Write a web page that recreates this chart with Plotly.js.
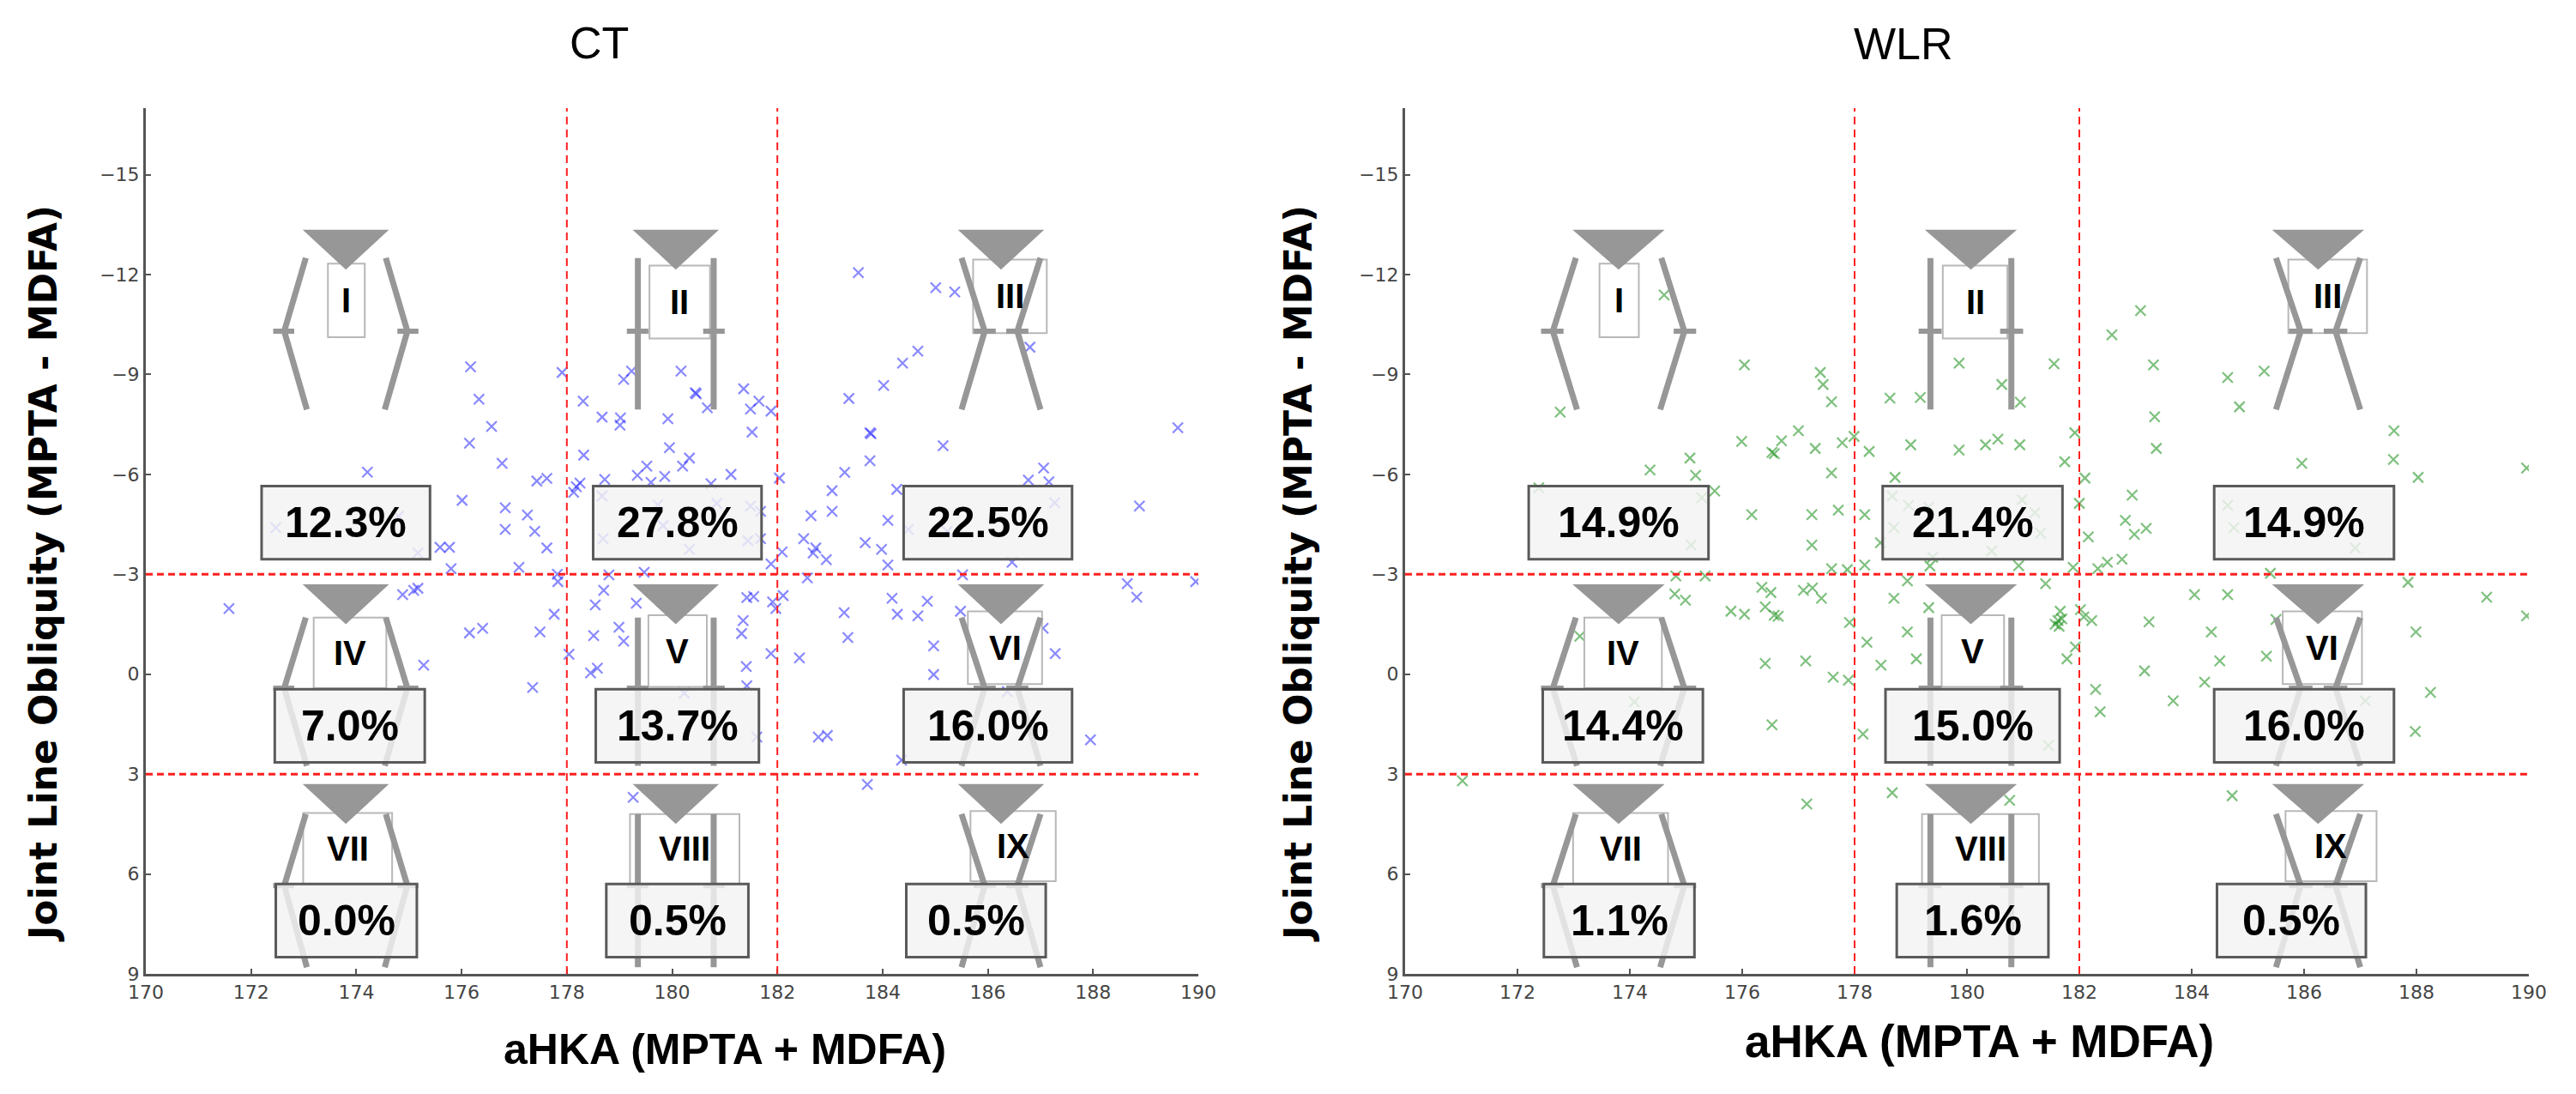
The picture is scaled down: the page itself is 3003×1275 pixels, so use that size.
<!DOCTYPE html>
<html><head><meta charset="utf-8">
<script src="https://cdn.plot.ly/plotly-3.0.1.min.js"></script>
<style>html,body{margin:0;padding:0;background:#fff;overflow:hidden}#chart{width:3003px;height:1275px}</style>
</head><body><div id="chart"></div>
<script>
// ---------------- DATA ----------------
const panelTitles = ['CT', 'WLR'];
const xTitleText = 'aHKA (MPTA + MDFA)';
const yTitleText = 'Joint Line Obliquity (MPTA - MDFA)';
const xTickVals = [170, 172, 174, 176, 178, 180, 182, 184, 186, 188, 190];
const yTickVals = [-15, -12, -9, -6, -3, 0, 3, 6, 9];
const aHKACuts = [178, 182];
const jloCuts = [-3, 3];
const phenotypes = ['I', 'II', 'III', 'IV', 'V', 'VI', 'VII', 'VIII', 'IX'];
const ctPct = ['12.3%', '27.8%', '22.5%', '7.0%', '13.7%', '16.0%', '0.0%', '0.5%', '0.5%'];
const wlrPct = ['14.9%', '21.4%', '14.9%', '14.4%', '15.0%', '16.0%', '1.1%', '1.6%', '0.5%'];

const ctX = [176.17,176.33,176.57,176.15,176.77,174.21,177.43,177.62,176.01,176.83,177.25,176.83,177.39,177.62,175.59,175.77,175.17,174.80,172.47,175.80,177.09,177.82,177.83,177.91,174.88,175.09,175.17,171.58,177.76,176.15,176.40,177.49,178.04,175.28,174.08,177.35,178.31,178.67,179.02,179.01,179.08,179.23,179.70,179.92,179.95,178.32,178.18,178.25,178.13,178.72,179.34,179.52,179.60,179.86,178.67,179.73,179.83,178.69,178.80,179.47,178.70,178.54,179.32,178.51,178.99,179.08,178.45,178.58,179.81,179.26,
183.54,185.01,185.37,186.80,184.67,184.38,184.02,183.36,180.17,180.44,180.46,180.67,181.36,181.65,181.49,181.88,181.52,183.76,183.78,185.15,183.76,189.61,183.28,180.33,180.20,181.12,180.74,182.04,183.04,184.27,187.06,186.77,187.16,187.27,188.88,182.64,183.04,184.10,180.85,181.49,181.68,181.44,181.68,180.33,182.50,182.73,182.68,182.93,183.67,183.98,184.10,182.09,181.88,184.49,185.23,186.46,185.52,182.57,188.65,188.83,189.95,181.55,181.42,181.91,182.11,181.97,184.18,184.85,184.28,184.67,183.27,185.48,183.34,181.35,181.32,187.05,187.28,184.97,184.97,182.42,181.88,180.52,181.41,181.42,180.23,181.61,182.78,182.95,187.95,184.36,183.71,186.48,186.37];
const ctY = [-9.23,-8.26,-7.44,-6.94,-6.33,-6.07,-5.80,-5.88,-5.22,-5.00,-4.78,-4.35,-4.29,-3.79,-3.81,-3.81,-3.64,-4.74,-4.40,-3.17,-3.21,-3.00,-2.78,-9.06,-2.39,-2.52,-2.58,-1.97,-1.80,-1.24,-1.38,-1.27,-0.60,-0.27,-0.21,0.40,-8.20,-7.72,-7.70,-7.48,-8.85,-9.10,-11.98,-7.67,-6.80,-6.58,-5.63,-5.74,-5.46,-5.85,-5.97,-6.25,-5.76,-5.94,-5.35,-5.09,-4.46,-4.07,-2.98,-3.06,-2.52,-2.08,-2.13,-1.16,-1.41,-0.99,-0.04,-0.18,0.24,3.70,
-12.06,-11.61,-11.48,-9.82,-9.70,-9.34,-8.67,-8.28,-9.10,-8.45,-8.42,-8.00,-8.57,-8.20,-7.96,-7.90,-7.27,-7.25,-7.22,-6.86,-6.41,-7.40,-6.06,-6.49,-6.25,-6.00,-5.72,-5.89,-5.51,-5.55,-6.19,-5.83,-5.78,-5.15,-5.05,-4.76,-4.89,-4.62,-5.13,-5.05,-4.89,-4.01,-4.07,-3.75,-4.07,-3.79,-3.64,-3.44,-3.95,-3.75,-3.28,-3.67,-3.31,-4.35,-4.29,-3.36,-2.98,-2.89,-2.72,-2.31,-2.78,-2.33,-2.30,-2.17,-2.36,-1.97,-2.28,-2.19,-1.80,-1.75,-1.85,-1.89,-1.10,-1.61,-1.22,-1.38,-0.62,-0.85,0.01,-0.49,-0.62,-0.19,-0.23,0.35,0.57,1.89,1.89,1.84,1.97,2.58,3.31,-0.54,0.52];

const wlrX = [174.61,172.76,176.04,177.39,177.44,177.59,178.63,179.17,179.86,175.99,176.70,176.53,176.57,177.00,177.30,177.78,177.99,178.26,179.00,179.86,175.07,174.36,175.17,175.51,177.59,178.72,176.17,177.24,177.71,178.18,177.24,178.46,172.38,175.28,175.09,178.67,178.96,179.32,178.70,178.18,177.59,177.87,179.39,179.34,174.82,175.34,174.80,174.99,176.35,176.51,177.09,177.25,177.41,175.80,176.04,176.41,176.57,176.64,178.94,178.70,179.32,177.91,178.22,178.94,179.83,178.47,179.10,176.41,177.13,177.62,177.89,173.11,174.25,174.08,176.53,178.15,171.02,177.15,178.67,
183.09,182.58,183.32,181.55,180.62,180.95,184.64,185.29,184.85,183.34,183.37,180.33,180.55,180.94,181.92,181.74,187.60,187.59,185.96,188.03,189.96,182.10,182.94,182.00,180.98,181.21,181.31,180.44,182.82,182.98,183.19,182.16,182.50,182.76,182.33,180.92,181.89,184.64,184.75,186.91,185.40,187.85,181.40,184.05,184.64,189.25,189.96,181.66,181.62,181.64,181.57,181.69,182.02,182.08,182.22,181.93,181.78,180.18,180.21,180.34,183.24,184.35,185.50,187.99,183.16,184.50,185.33,184.23,186.09,183.67,182.29,182.37,188.25,187.09,187.98,181.45,184.72,180.76];
const wlrY = [-11.39,-7.87,-9.29,-9.06,-8.70,-8.18,-8.29,-8.31,-9.34,-6.99,-7.01,-6.66,-6.62,-7.31,-6.78,-6.95,-7.14,-6.69,-6.89,-6.73,-6.49,-6.13,-5.97,-5.50,-6.04,-5.91,-4.79,-4.79,-4.93,-4.79,-3.88,-3.95,-5.60,-5.30,-3.88,-5.35,-5.07,-5.02,-4.40,-3.28,-3.17,-3.14,-3.51,-3.25,-2.95,-2.95,-2.41,-2.22,-2.61,-2.45,-2.52,-2.59,-2.28,-1.89,-1.80,-2.02,-1.77,-1.74,-2.80,-2.28,-2.00,-1.55,-0.96,-1.27,-1.50,-0.27,-0.46,-0.32,-0.40,0.09,0.18,-1.14,-0.15,0.83,1.52,1.80,3.20,3.90,3.56,
-10.92,-10.19,-9.29,-9.32,-8.70,-8.17,-8.91,-9.10,-8.03,-7.73,-6.78,-6.89,-7.06,-6.89,-7.25,-6.38,-7.31,-6.45,-6.33,-5.91,-6.19,-5.89,-5.38,-5.13,-5.24,-4.85,-4.23,-3.70,-4.62,-4.20,-4.38,-4.12,-3.36,-3.45,-3.17,-3.26,-3.21,-5.07,-4.40,-3.79,-3.03,-2.76,-2.72,-2.39,-2.39,-2.31,-1.75,-1.89,-1.61,-1.44,-1.50,-1.66,-1.94,-1.72,-1.61,-0.82,-0.46,-1.55,-0.07,0.12,-1.57,-1.27,-1.64,-1.27,-0.10,-0.40,-0.54,0.24,-0.38,0.80,0.46,1.13,0.55,0.80,1.72,2.14,3.65,3.79];

// ---------------- DECORATION GEOMETRY (icons / boxes) ----------------
const colCenter = [173.8, 180.07, 186.25];
const legShape = [
  {top: 0.76, knee: 1.17, bot: 0.74},   // varus
  {top: 0.72, knee: 0.72, bot: 0.72},   // neutral
  {top: 0.75, knee: 0.31, bot: 0.75}    // valgus
];
const kneeMark = [[0.98, 1.38], [0.52, 0.93], [0.10, 0.52]];
const rowGeom = [
  {triTop: -13.35, triApex: -12.15, legTop: -12.5, knee: -10.3, legBot: -7.95},
  {triTop: -2.7, triApex: -1.5, legTop: -1.7, knee: 0.42, legBot: 2.75},
  {triTop: 3.3, triApex: 4.5, legTop: 4.2, knee: 6.35, legBot: 8.8}
];
const triHalf = 0.82;
const labelBoxes = [
  [173.46, 174.16, -12.33, -10.12], [179.57, 180.72, -12.27, -10.08], [185.72, 187.12, -12.45, -10.24],
  [173.19, 174.57, -1.70, 0.42], [179.55, 180.66, -1.77, 0.38], [185.62, 187.03, -1.89, 0.30],
  [172.99, 174.68, 4.17, 6.32], [179.20, 181.28, 4.20, 6.30], [185.67, 187.29, 4.11, 6.22]
];
const pctBoxes = [
  [172.2, 175.4, -5.65, -3.45], [178.5, 181.7, -5.65, -3.45], [184.4, 187.6, -5.65, -3.45],
  [172.45, 175.3, 0.45, 2.65], [178.55, 181.65, 0.45, 2.65], [184.4, 187.6, 0.45, 2.65],
  [172.47, 175.15, 6.3, 8.5], [178.75, 181.45, 6.3, 8.5], [184.45, 187.1, 6.3, 8.5]
];

const ICON = '#979797';
const SANS = 'Liberation Sans, Arial, sans-serif';

function panelShapes(xr, yr) {
  const s = [];
  aHKACuts.forEach(v => s.push({type: 'line', xref: xr, yref: yr, x0: v, x1: v, y0: 9, y1: -17,
    line: {color: '#ff1f1f', width: 2, dash: '9px,6px'}, layer: 'above'}));
  jloCuts.forEach(v => s.push({type: 'line', xref: xr, yref: yr, x0: 170, x1: 190, y0: v, y1: v,
    line: {color: '#ff1f1f', width: 3, dash: '8px,5px'}, layer: 'above'}));
  for (let r = 0; r < 3; r++) {
    for (let c = 0; c < 3; c++) {
      const i = r * 3 + c, cx = colCenter[c], g = rowGeom[r], L = legShape[c], b = labelBoxes[i];
      s.push({type: 'rect', xref: xr, yref: yr, x0: b[0], x1: b[1], y0: b[2], y1: b[3],
        fillcolor: '#ffffff', line: {color: '#b8b8b8', width: 2}, layer: 'above'});
      [-1, 1].forEach(sg => {
        s.push({type: 'path', xref: xr, yref: yr, layer: 'above',
          path: `M ${cx + sg * L.top},${g.legTop} L ${cx + sg * L.knee},${g.knee} L ${cx + sg * L.bot},${g.legBot}`,
          line: {color: ICON, width: 7}});
        s.push({type: 'line', xref: xr, yref: yr, layer: 'above',
          x0: cx + sg * kneeMark[c][0], x1: cx + sg * kneeMark[c][1], y0: g.knee, y1: g.knee,
          line: {color: ICON, width: 6}});
      });
      s.push({type: 'path', xref: xr, yref: yr, layer: 'above',
        path: `M ${cx - triHalf},${g.triTop} L ${cx + triHalf},${g.triTop} L ${cx},${g.triApex} Z`,
        fillcolor: ICON, line: {width: 0}});
    }
  }
  pctBoxes.forEach(b => s.push({type: 'rect', xref: xr, yref: yr, x0: b[0], x1: b[1], y0: b[2], y1: b[3],
    fillcolor: 'rgba(243,243,243,0.82)', line: {color: '#5a5a5a', width: 3}, layer: 'above'}));
  return s;
}

function panelAnnotations(xr, yr, pct) {
  const a = [];
  labelBoxes.forEach((b, i) => a.push({xref: xr, yref: yr, x: (b[0] + b[1]) / 2, y: (b[2] + b[3]) / 2,
    text: phenotypes[i], showarrow: false, xanchor: 'center', yanchor: 'middle',
    font: {family: SANS, size: 40, color: '#000', weight: 'bold'}}));
  pctBoxes.forEach((b, i) => a.push({xref: xr, yref: yr, x: (b[0] + b[1]) / 2, y: (b[2] + b[3]) / 2,
    text: pct[i], showarrow: false, xanchor: 'center', yanchor: 'middle',
    font: {family: SANS, size: 50, color: '#000', weight: 'bold'}}));
  return a;
}

const W = 3003, H = 1275;
const px = v => v / W, py = v => (H - v) / H;

function xAxis(domain, anchor) {
  return {domain: domain, anchor: anchor, range: [170, 190], tickvals: xTickVals, ticks: 'inside', ticklen: 6,
    tickwidth: 2, tickcolor: '#555', showline: true, linecolor: '#555', linewidth: 3, showgrid: false,
    zeroline: false, automargin: false, tickfont: {family: 'DejaVu Sans', size: 22, color: '#444'}};
}
function yAxis(anchor) {
  return {domain: [py(1135), py(126)], anchor: anchor, range: [9, -17], tickvals: yTickVals, ticks: 'inside',
    ticklen: 6, tickwidth: 2, tickcolor: '#555', showline: true, linecolor: '#555', linewidth: 3, showgrid: false,
    zeroline: false, automargin: false, tickfont: {family: 'DejaVu Sans', size: 22, color: '#444'}};
}

const traces = [
  {type: 'scatter', mode: 'markers', x: ctX, y: ctY, xaxis: 'x', yaxis: 'y', hoverinfo: 'skip',
    marker: {symbol: 'x-thin', size: 12, line: {width: 2.2, color: 'rgba(40,40,255,0.55)'}}},
  {type: 'scatter', mode: 'markers', x: wlrX, y: wlrY, xaxis: 'x2', yaxis: 'y2', hoverinfo: 'skip',
    marker: {symbol: 'x-thin', size: 12, line: {width: 2.2, color: 'rgba(20,140,20,0.55)'}}}
];

const textAnn = [
  {xref: 'paper', yref: 'paper', x: px(698), y: py(50), text: panelTitles[0], showarrow: false,
    xanchor: 'center', yanchor: 'middle', font: {family: SANS, size: 52, color: '#000'}},
  {xref: 'paper', yref: 'paper', x: px(2219), y: py(51), text: panelTitles[1], showarrow: false,
    xanchor: 'center', yanchor: 'middle', font: {family: SANS, size: 52, color: '#000'}},
  {xref: 'paper', yref: 'paper', x: px(845), y: py(1223), text: xTitleText, showarrow: false,
    xanchor: 'center', yanchor: 'middle', font: {family: SANS, size: 50, color: '#000', weight: 'bold'}},
  {xref: 'paper', yref: 'paper', x: px(2307), y: py(1213), text: xTitleText, showarrow: false,
    xanchor: 'center', yanchor: 'middle', font: {family: SANS, size: 53, color: '#000', weight: 'bold'}},
  {xref: 'paper', yref: 'paper', x: px(50), y: py(669), text: yTitleText, showarrow: false, textangle: -90,
    xanchor: 'center', yanchor: 'middle', font: {family: 'DejaVu Sans', size: 44, color: '#000', weight: 'bold'}},
  {xref: 'paper', yref: 'paper', x: px(1513), y: py(669), text: yTitleText, showarrow: false, textangle: -90,
    xanchor: 'center', yanchor: 'middle', font: {family: 'DejaVu Sans', size: 44, color: '#000', weight: 'bold'}}
];

const layout = {
  width: W, height: H, margin: {l: 0, r: 0, t: 0, b: 0}, showlegend: false,
  paper_bgcolor: '#ffffff', plot_bgcolor: 'rgba(0,0,0,0)',
  xaxis: xAxis([px(170), px(1397)], 'y'),
  yaxis: yAxis('x'),
  xaxis2: xAxis([px(1638), px(2948)], 'y2'),
  yaxis2: yAxis('x2'),
  shapes: panelShapes('x', 'y').concat(panelShapes('x2', 'y2')),
  annotations: panelAnnotations('x', 'y', ctPct).concat(panelAnnotations('x2', 'y2', wlrPct)).concat(textAnn)
};

Plotly.newPlot('chart', traces, layout, {staticPlot: true, displayModeBar: false});
</script></body></html>
